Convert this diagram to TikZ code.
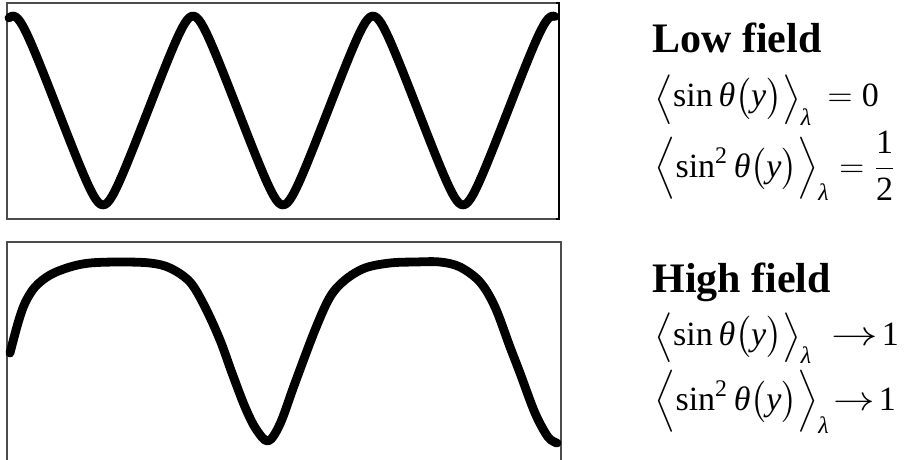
\documentclass[tikz,border=0pt]{standalone}
\usepackage{amsmath}
\usepackage{graphicx}
\usepackage{fontspec}
\setmainfont{Liberation Serif}
\usetikzlibrary{positioning}
\newcommand{\vit}[1]{\text{\itshape #1}}
\newcommand{\lang}{\mathopen{\raisebox{-1.5pt}{\scalebox{1.15}[1.2]{$\bigl\langle$}}}}
\newcommand{\rang}{\mathclose{\raisebox{-1.5pt}{\scalebox{1.15}[1.2]{$\bigr\rangle$}}}}
\newcommand{\longto}[1]{\mathrel{\scalebox{#1}[1]{$\rightarrow$}}}

\begin{document}
\begin{tikzpicture}[x=0.5pt,y=-0.5pt,
  frame/.style={draw=black!70,line width=0.7pt},
  wave/.style={line width=4.4pt,line cap=round,line join=round},
  head/.style={anchor=base west,inner sep=0pt,font=\fontsize{21}{25}\selectfont\bfseries},
  eq/.style={anchor=base west,inner sep=0pt,font=\fontsize{17}{22}\selectfont}]
\useasboundingbox (0,0) rectangle (905,460);
% low field panel
\draw[frame] (7,3) rectangle (559,219);
\draw[line width=1pt] (556,219) -- (559,219) -- (559,3) -- (556,3);
\draw[wave] plot[domain=9:555,samples=240] (\x,{110.5-94.5*asin(0.93*cos(2*(\x-13)))/asin(0.93)});
% high field panel
\draw[frame] (7,462) -- (7,242) -- (561,242) -- (561,462);
\draw[wave] plot[smooth,tension=0.55] coordinates {(10,353) (18,323) (25,303) (35,287) (50,275) (70,267)
  (90,263) (120,262) (150,263) (170,268) (190,282) (205,307) (220,340) (232,373) (245,407) (256,429)
  (268,441) (280,424) (295,383) (315,330) (330,297) (345,280) (365,268) (390,263) (415,262) (440,262)
  (460,267) (480,282) (495,307) (510,347) (520,373) (535,413) (548,437) (557,443)};
% labels
\node[head] (lowhead) at (652,53) {Low field};
\node[eq] (lowsin) at (654,107)
  {$\lang \text{sin}\,\vit{θ}\bigl(\vit{y}\bigr)\rang_{\vit{λ}} \,=\text{0}$};
\node[eq] (lowsinsq) at (654,177)
  {$\Bigl\langle \text{sin}^{\text{2}}\,\vit{θ}\bigl(\vit{y}\bigr)\Bigr\rangle_{\vit{λ}} = \dfrac{\text{1}}{\text{2}}$};
\node[head] (highhead) at (652,292) {High field};
\node[eq] (highsin) at (654,345)
  {$\lang \text{sin}\,\vit{θ}\bigl(\vit{y}\bigr)\rang_{\vit{λ}} \;\longto{1.35}\!\text{1}$};
\node[eq] (highsinsq) at (654,410)
  {$\Bigl\langle \text{sin}^{\text{2}}\,\vit{θ}\bigl(\vit{y}\bigr)\Bigr\rangle_{\vit{λ}} \!\longto{1.2}\!\text{1}$};
\end{tikzpicture}
\end{document}
